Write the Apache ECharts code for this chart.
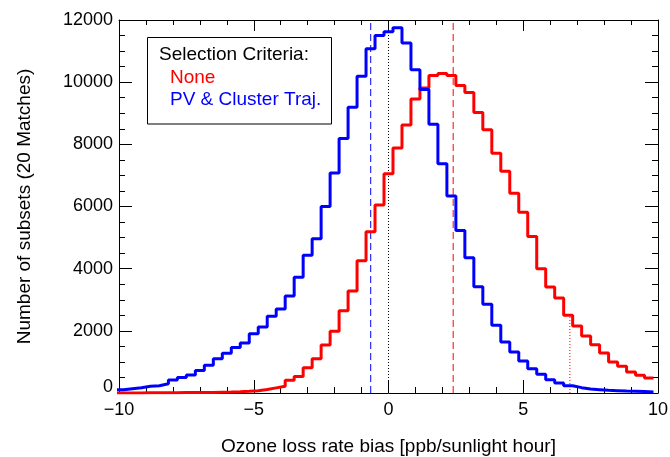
<!DOCTYPE html>
<html><head><meta charset="utf-8">
<script src="https://cdn.jsdelivr.net/npm/echarts@6/dist/echarts.min.js"></script>
<style>html,body{margin:0;padding:0;background:#fff}#c{width:670px;height:457px}</style>
</head><body><div id="c"></div>
<script>
// Histogram bins: 60 bins of width 1/3, first bin centred on -10
const binLeftEdge = -10 - 1/6;
const binWidth = 1/3;

// Selection criteria: None (red)
const redCounts = [
  0, 0, 0, 5, 5, 10, 10, 15, 15, 20,
  20, 25, 30, 40, 55, 75, 110, 165, 220, 410,
  530, 815, 1104, 1545, 1990, 2650, 3280, 4255, 5190, 6045,
  7053, 7880, 8620, 9455, 9810, 10214, 10280, 10214, 9893, 9665,
  9025, 8468, 7716, 7137, 6430, 5819, 5038, 3999, 3408, 3054,
  2498, 2154, 1833, 1556, 1286, 997, 858, 675, 569, 482
];
// Selection criteria: PV & Cluster Traj. (blue)
const blueCounts = [
  108, 140, 172, 215, 236, 300, 420, 500, 580, 720,
  890, 1104, 1280, 1460, 1610, 1908, 2122, 2470, 2700, 3119,
  3720, 4430, 4963, 6002, 7080, 8190, 9195, 10192, 11073, 11500,
  11620, 11750, 11260, 10400, 9764, 8650, 7375, 6334, 5231, 4353,
  3420, 2852, 2177, 1640, 1318, 1029, 784, 601, 430, 322,
  236, 172, 129, 108, 86, 75, 64, 55, 45, 35
];

const xTickValues = [-10, -5, 0, 5, 10];
const yTickValues = [0, 2000, 4000, 6000, 8000, 10000, 12000];

// reference lines (x positions)
const blueMedianX = -0.66;
const redMedianX = 2.40;
const zeroX = 0;
const redUpperX = 6.73;

const legendTitle = 'Selection Criteria:';
const seriesNames = ['None', 'PV & Cluster Traj.'];
const xTitle = 'Ozone loss rate bias [ppb/sunlight hour]';
const yTitle = 'Number of subsets (20 Matches)';

const FONT = '"Liberation Sans", Arial, Helvetica, sans-serif';

function stepData(counts) {
  const d = counts.map((v, i) => [binLeftEdge + i * binWidth, v]);
  d.push([binLeftEdge + counts.length * binWidth, counts[counts.length - 1]]);
  return d;
}
function countAt(counts, x) {
  const i = Math.floor((x - binLeftEdge) / binWidth);
  return counts[Math.max(0, Math.min(counts.length - 1, i))];
}
function vline(x, top, color, dash) {
  return {
    type: 'line', data: [[x, 0], [x, top]], symbol: 'none', silent: true,
    lineStyle: { color: color, width: 1, type: dash }, animation: false, z: 1
  };
}

const xMin = xTickValues[0], xMax = xTickValues[xTickValues.length - 1];
const yMin = yTickValues[0], yMax = yTickValues[yTickValues.length - 1];

const commonTick = { show: true, inside: true, length: 13, lineStyle: { color: '#000', width: 1 } };
const axisLineStyle = { show: true, onZero: false, lineStyle: { color: '#000', width: 1 } };

const chart = echarts.init(document.getElementById('c'), null, { renderer: 'canvas' });
chart.setOption({
  animation: false,
  backgroundColor: '#fff',
  grid: { left: 119, right: 12, top: 20, bottom: 64, containLabel: false, outerBoundsMode: 'none' },
  xAxis: [
    {
      type: 'value', position: 'bottom', min: xMin, max: xMax, interval: 5,
      axisLine: axisLineStyle, axisTick: commonTick,
      minorTick: { show: true, splitNumber: 5, length: 6, lineStyle: { color: '#000', width: 1 } },
      splitLine: { show: false }, minorSplitLine: { show: false },
      axisLabel: {
        color: '#000', fontSize: 18, fontFamily: FONT, margin: 8,
        formatter: v => (v < 0 ? '\u2212' + Math.abs(v) : String(v))
      },
      name: xTitle, nameLocation: 'middle', nameGap: 44,
      nameTextStyle: { color: '#000', fontSize: 19, fontFamily: FONT }
    },
    {
      type: 'value', position: 'top', min: xMin, max: xMax, interval: 5,
      axisLine: axisLineStyle, axisTick: Object.assign({}, commonTick, { length: 11 }),
      minorTick: { show: true, splitNumber: 5, length: 5, lineStyle: { color: '#000', width: 1 } },
      splitLine: { show: false }, axisLabel: { show: false }
    }
  ],
  yAxis: [
    {
      type: 'value', position: 'left', min: yMin, max: yMax, interval: 2000,
      axisLine: axisLineStyle, axisTick: commonTick,
      minorTick: { show: true, splitNumber: 4, length: 6, lineStyle: { color: '#000', width: 1 } },
      splitLine: { show: false }, minorSplitLine: { show: false },
      axisLabel: {
        color: '#000', fontSize: 18, fontFamily: FONT, margin: 6,
        formatter: v => (v === 0 ? '{z|0}' : String(v)),
        rich: { z: { fontSize: 18, fontFamily: FONT, color: '#000', padding: [0, 0, 12, 0] } }
      },
      name: yTitle, nameLocation: 'middle', nameGap: 85,
      nameTextStyle: { color: '#000', fontSize: 19, fontFamily: FONT }
    },
    {
      type: 'value', position: 'right', min: yMin, max: yMax, interval: 2000,
      axisLine: axisLineStyle, axisTick: commonTick,
      minorTick: { show: true, splitNumber: 4, length: 6, lineStyle: { color: '#000', width: 1 } },
      splitLine: { show: false }, axisLabel: { show: false }
    }
  ],
  series: [
    vline(blueMedianX, yMax, '#0000ff', [7, 4]),
    vline(redMedianX, yMax, '#ff0000', [7, 4]),
    vline(zeroX, countAt(blueCounts, zeroX), '#000000', [1, 2]),
    vline(redUpperX, countAt(redCounts, redUpperX), '#ff0000', [1, 2]),
    {
      name: seriesNames[0], type: 'line', step: 'end', data: stepData(redCounts),
      symbol: 'none', clip: true, lineStyle: { color: '#ff0000', width: 3 }, z: 2
    },
    {
      name: seriesNames[1], type: 'line', step: 'end', data: stepData(blueCounts),
      symbol: 'none', clip: true, lineStyle: { color: '#0000ff', width: 3 }, z: 3
    }
  ],
  graphic: [
    { type: 'rect', shape: { x: 147.5, y: 37.5, width: 184, height: 86.5 },
      style: { fill: '#fff', stroke: '#000', lineWidth: 1 }, z: 100 },
    { type: 'text', x: 159, y: 54.5, z: 101,
      style: { text: legendTitle, fill: '#000', font: '19px ' + FONT, textVerticalAlign: 'middle' } },
    { type: 'text', x: 170, y: 77.5, z: 101,
      style: { text: seriesNames[0], fill: '#ff0000', font: '19px ' + FONT, textVerticalAlign: 'middle' } },
    { type: 'text', x: 170, y: 100, z: 101,
      style: { text: seriesNames[1], fill: '#0000ff', font: '19px ' + FONT, textVerticalAlign: 'middle' } }
  ]
});
</script>
</body></html>
